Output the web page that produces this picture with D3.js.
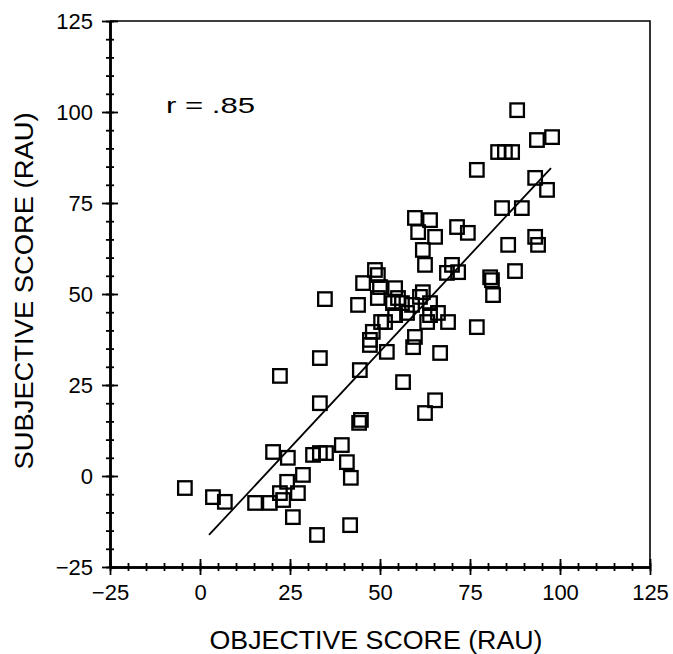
<!DOCTYPE html>
<html>
<head>
<meta charset="utf-8">
<script src="https://cdn.jsdelivr.net/npm/d3@7"></script>
<style>
  html, body { margin: 0; padding: 0; background: #fff; }
  svg text { font-family: "Liberation Sans", Arial, sans-serif; fill: #000; }
</style>
</head>
<body>
<div id="chart"></div>
<script>
// objective vs subjective score
const objective = [
  -4.2, 3.6, 6.9, 15.3, 19.4, 20.3, 24.4, 24.2, 22.2, 23.1,
  25.8, 27.2, 28.6, 22.2, 32.5, 31.4, 33.3, 35.0, 33.3, 33.3,
  34.7, 39.4, 40.8, 41.9, 41.7, 44.2, 44.7, 44.4, 43.9, 45.3,
  47.2, 47.2, 48.0, 48.6, 49.4, 50.0, 49.4, 50.3, 51.9, 54.2,
  53.6, 56.1, 54.2, 57.5, 51.4, 56.4, 59.7, 63.9, 60.6, 65.3,
  61.9, 62.5, 61.9, 61.1, 63.9, 63.9, 66.1, 63.1, 68.9, 59.7,
  59.2, 66.7, 65.3, 62.5, 68.6, 70.0, 71.7, 71.4, 74.4, 76.9,
  76.9, 81.1, 80.6, 81.4, 83.9, 82.8, 84.7, 86.7, 85.6, 87.5,
  88.1, 89.4, 93.1, 96.4, 93.6, 97.8, 93.1, 93.9, 58.9, 55.0
];
const subjective = [
  -3.3, -5.8, -7.1, -7.4, -7.4, 6.6, 5.0, -1.6, -4.7, -6.6,
  -11.3, -4.7, 0.3, 27.5, -16.2, 5.8, 6.3, 6.3, 20.0, 32.4,
  48.6, 8.5, 3.8, -0.5, -13.5, 14.6, 15.4, 29.1, 47.0, 53.0,
  36.0, 37.4, 39.6, 56.6, 55.2, 51.9, 48.9, 42.3, 34.1, 51.6,
  47.5, 47.5, 44.2, 44.8, 42.3, 25.8, 70.9, 70.3, 67.0, 65.7,
  62.1, 58.0, 50.5, 49.2, 47.5, 44.2, 44.8, 42.3, 42.3, 38.2,
  35.4, 33.8, 20.8, 17.3, 55.8, 58.0, 56.0, 68.4, 66.8, 84.1,
  40.9, 53.8, 54.6, 49.7, 73.6, 89.0, 89.0, 89.0, 63.5, 56.3,
  100.5, 73.6, 81.9, 78.6, 92.3, 93.1, 65.7, 63.5, 47.0, 48.9
];
// fitted line end points
const fitX = [2.5, 97.5];
const fitY = [-16.2, 84.6];
const majorTicks = [-25, 0, 25, 50, 75, 100, 125];
const minorTicks = d3.range(-25, 126, 5);
const rLabel = "r = .85";
const xTitle = "OBJECTIVE SCORE (RAU)";
const yTitle = "SUBJECTIVE SCORE (RAU)";

const W = 673, H = 654;
const svg = d3.select("#chart").append("svg")
  .attr("width", W).attr("height", H);

const x = d3.scaleLinear().domain([-25, 125]).range([110, 650]);
const y = d3.scaleLinear().domain([-25, 125]).range([567, 21]);

// frame top + right
svg.append("path")
  .attr("d", `M${x(-25)},${y(125)}H${x(125)}V${y(-25)}`)
  .attr("fill", "none").attr("stroke", "#000").attr("stroke-width", 1.6);

// axes: ticks cross the axis, so draw each side separately
function drawAxis(axisFn, tr, vals, size, labels) {
  [size, -size].forEach((s, i) => {
    const g = svg.append("g")
      .attr("transform", tr)
      .call(axisFn.tickValues(vals).tickSize(s).tickSizeOuter(0)
        .tickFormat(labels && i === 0 ? d3.format("d") : ""));
    g.attr("font-size", 22).attr("font-family", null);
    g.select(".domain").attr("stroke-width", 2);
    g.selectAll(".tick line").attr("stroke-width", 1.8);
  });
}
drawAxis(d3.axisBottom(x), `translate(0,${y(-25)})`, minorTicks, 4, false);
drawAxis(d3.axisBottom(x), `translate(0,${y(-25)})`, majorTicks, 8, true);
drawAxis(d3.axisLeft(y), `translate(${x(-25)},0)`, minorTicks, 4, false);
drawAxis(d3.axisLeft(y), `translate(${x(-25)},0)`, majorTicks, 8, true);

svg.selectAll("g.tick text").filter(function() { return this.textContent.startsWith("-"); })
  .text(function() { return "\u2212" + this.textContent.slice(1); });

// nudge label spacing to the reference
svg.selectAll("g.tick text").each(function() {
  const t = d3.select(this);
  if (+t.attr("y") > 0) t.attr("y", 17);
  if (+t.attr("x") < 0) t.attr("x", -17);
});

// fit line
svg.append("line")
  .attr("x1", x(fitX[0])).attr("y1", y(fitY[0]))
  .attr("x2", x(fitX[1])).attr("y2", y(fitY[1]))
  .attr("stroke", "#000").attr("stroke-width", 1.8);

// points
const pts = objective.map((d, i) => ({ x: d, y: subjective[i] }));
const s = 13.5;
svg.selectAll("rect.pt")
  .data(pts)
  .enter().append("rect")
  .attr("class", "pt")
  .attr("x", d => x(d.x) - s / 2)
  .attr("y", d => y(d.y) - s / 2)
  .attr("width", s).attr("height", s)
  .attr("fill", "none")
  .attr("stroke", "#000")
  .attr("stroke-width", 2.3);

svg.append("text")
  .attr("x", 166).attr("y", 113)
  .attr("font-size", 22)
  .attr("textLength", 89).attr("lengthAdjust", "spacingAndGlyphs")
  .text(rLabel);

svg.append("text")
  .attr("x", 376).attr("y", 649)
  .attr("text-anchor", "middle")
  .attr("font-size", 25)
  .attr("textLength", 333).attr("lengthAdjust", "spacingAndGlyphs")
  .text(xTitle);

svg.append("text")
  .attr("transform", "translate(33,291) rotate(-90)")
  .attr("text-anchor", "middle")
  .attr("font-size", 25)
  .attr("textLength", 357).attr("lengthAdjust", "spacingAndGlyphs")
  .text(yTitle);
</script>
</body>
</html>
